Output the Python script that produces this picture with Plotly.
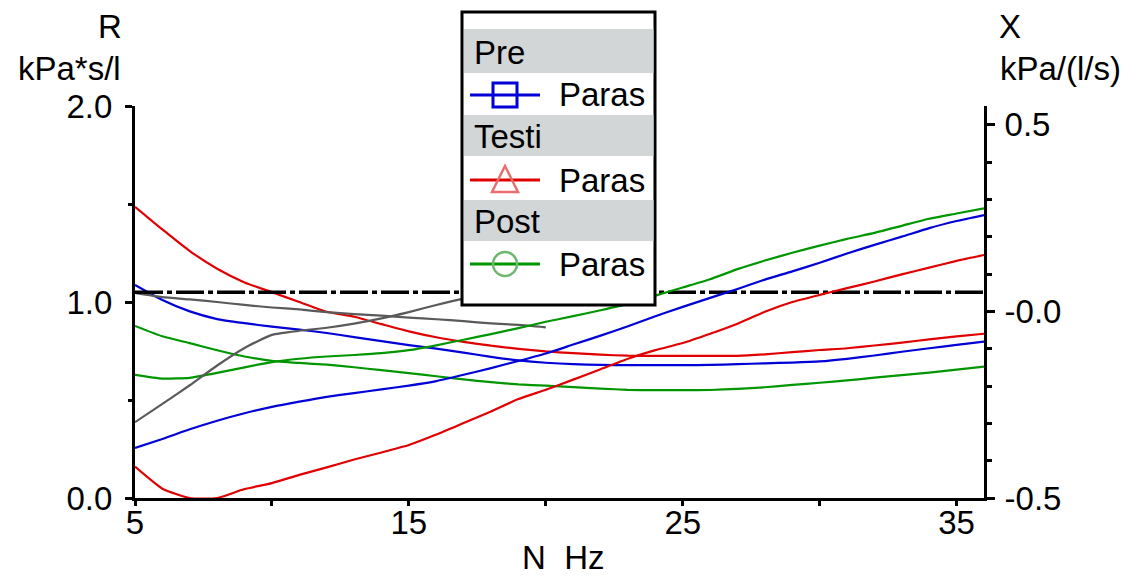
import plotly.graph_objects as go

# ---------------- data ----------------
FREQ = [5, 6, 7, 8, 9, 10, 11, 12, 13, 14, 15, 16, 17, 18, 19, 20,
        21, 22, 23, 24, 25, 26, 27, 28, 29, 30, 31, 32, 33, 34, 35, 36]

# Pre (blue)
PRE_R = [1.087, 1.010, 0.952, 0.913, 0.892, 0.874, 0.859, 0.842, 0.821, 0.800, 0.780, 0.762,
         0.742, 0.720, 0.702, 0.690, 0.683, 0.679, 0.678, 0.678, 0.678, 0.679, 0.683, 0.687,
         0.691, 0.697, 0.710, 0.727, 0.746, 0.764, 0.781, 0.798]
PRE_X = [-0.366, -0.342, -0.316, -0.293, -0.273, -0.256, -0.242, -0.229, -0.219, -0.209, -0.199,
         -0.187, -0.170, -0.152, -0.133, -0.113, -0.089, -0.065, -0.040, -0.013, 0.012, 0.036,
         0.060, 0.085, 0.107, 0.130, 0.155, 0.178, 0.200, 0.223, 0.242, 0.258]

# Testi (red)
TESTI_R = [1.486, 1.370, 1.260, 1.170, 1.100, 1.050, 1.000, 0.950, 0.925, 0.887, 0.850, 0.820,
           0.797, 0.777, 0.761, 0.748, 0.739, 0.731, 0.726, 0.725, 0.725, 0.725, 0.725, 0.733,
           0.744, 0.755, 0.764, 0.778, 0.793, 0.809, 0.825, 0.838]
TESTI_X = [-0.416, -0.475, -0.500, -0.500, -0.476, -0.460, -0.438, -0.418, -0.397, -0.378,
           -0.358, -0.330, -0.299, -0.268, -0.235, -0.210, -0.183, -0.155, -0.127, -0.104,
           -0.085, -0.060, -0.033, -0.001, 0.025, 0.044, 0.062, 0.080, 0.099, 0.117, 0.135, 0.151]

# Post (green)
POST_R = [0.878, 0.825, 0.790, 0.754, 0.722, 0.700, 0.689, 0.680, 0.667, 0.652, 0.637, 0.621,
          0.605, 0.591, 0.580, 0.573, 0.566, 0.558, 0.552, 0.550, 0.550, 0.551, 0.557, 0.565,
          0.577, 0.588, 0.600, 0.614, 0.627, 0.640, 0.655, 0.670]
POST_X = [-0.170, -0.180, -0.178, -0.165, -0.150, -0.136, -0.127, -0.121, -0.117, -0.112,
          -0.104, -0.091, -0.076, -0.061, -0.045, -0.028, -0.013, 0.003, 0.020, 0.042, 0.064,
          0.086, 0.113, 0.136, 0.157, 0.176, 0.194, 0.210, 0.229, 0.248, 0.262, 0.276]

# predicted / reference curves (gray)
REF_FREQ = [5, 6, 7, 8, 9, 10, 11, 12, 13, 14, 15, 16, 17, 18, 19, 20]
REF_R = [1.047, 1.025, 1.013, 1.000, 0.985, 0.972, 0.962, 0.948, 0.938, 0.930, 0.920, 0.912,
         0.902, 0.891, 0.883, 0.871]
REF_X = [-0.297, -0.248, -0.198, -0.145, -0.098, -0.063, -0.052, -0.044, -0.033, -0.019,
         -0.002, 0.017, 0.034, 0.048, 0.060, 0.070]

REF_LINE_R = 1.05

X_TICKS = [5, 15, 25, 35]
X_MINOR = [10, 20, 30]
R_TICKS = [0, 1, 2]
R_TICKTEXT = ["0.0", "1.0", "2.0"]
X2_TICKS = [-0.5, 0, 0.5]
X2_TICKTEXT = ["-0.5", "-0.0", "0.5"]

GROUPS = ["Pre", "Testi", "Post"]
ENTRY = "Paras"

# ---------------- styling ----------------
W, H = 1124, 578
ML, MR, MT, MB = 135, 140, 106, 80
PW, PH = W - ML - MR, H - MT - MB
FONT = "Liberation Sans, Arial, sans-serif"
FS = 33

BLUE = "rgb(0,0,215)"
RED = "rgb(225,0,0)"
GREEN = "rgb(0,150,0)"
GRAY = "rgb(90,90,90)"


def px(x):
    return (x - ML) / PW


def py(y):
    return (H - MB - y) / PH


fig = go.Figure()

line_w = 2.2
for yvals, col in [(POST_R, GREEN), (PRE_R, BLUE), (TESTI_R, RED)]:
    fig.add_trace(go.Scatter(x=FREQ, y=yvals, mode="lines", yaxis="y",
                             line=dict(color=col, width=line_w, shape="spline", smoothing=0.5),
                             showlegend=False, hoverinfo="skip"))
for yvals, col in [(POST_X, GREEN), (PRE_X, BLUE), (TESTI_X, RED)]:
    fig.add_trace(go.Scatter(x=FREQ, y=yvals, mode="lines", yaxis="y2",
                             line=dict(color=col, width=line_w, shape="spline", smoothing=0.5),
                             showlegend=False, hoverinfo="skip"))
fig.add_trace(go.Scatter(x=REF_FREQ, y=REF_R, mode="lines", yaxis="y",
                         line=dict(color=GRAY, width=line_w, shape="spline", smoothing=0.5),
                         showlegend=False, hoverinfo="skip"))
fig.add_trace(go.Scatter(x=REF_FREQ, y=REF_X, mode="lines", yaxis="y2",
                         line=dict(color=GRAY, width=line_w, shape="spline", smoothing=0.5),
                         showlegend=False, hoverinfo="skip"))
fig.add_trace(go.Scatter(x=[FREQ[0], FREQ[-1]], y=[REF_LINE_R, REF_LINE_R], mode="lines",
                         yaxis="y", line=dict(color="black", width=3.5, dash="28px,4px,5px,4px"),
                         showlegend=False, hoverinfo="skip"))

shapes = []
annotations = []

# legend box
shapes.append(dict(type="rect", xref="paper", yref="paper", layer="above",
                   x0=px(462), x1=px(655), y0=py(12), y1=py(305),
                   fillcolor="white", line=dict(color="black", width=3)))
row_tops = [29, 115, 200]
row_h = [44, 41, 41]
for g, top, hh in zip(GROUPS, row_tops, row_h):
    shapes.append(dict(type="rect", xref="paper", yref="paper", layer="above",
                       x0=px(464), x1=px(653.5), y0=py(top), y1=py(top + hh),
                       fillcolor="rgb(211,214,215)", line=dict(width=0)))
    annotations.append(dict(text=g, xref="paper", yref="paper", x=px(472), y=py(top + hh / 2 + 1),
                            xanchor="left", yanchor="middle", showarrow=False,
                            font=dict(family=FONT, size=FS, color="black")))

entry_y = [95, 180, 264]
entry_col = [BLUE, RED, GREEN]
for ey, col in zip(entry_y, entry_col):
    shapes.append(dict(type="line", xref="paper", yref="paper", layer="above",
                       x0=px(470), x1=px(540), y0=py(ey), y1=py(ey),
                       line=dict(color=col, width=3)))
    annotations.append(dict(text=ENTRY, xref="paper", yref="paper", x=px(557), y=py(ey),
                            xanchor="left", yanchor="middle", showarrow=False,
                            font=dict(family=FONT, size=FS, color="black")))

# markers in legend
shapes.append(dict(type="rect", xref="paper", yref="paper", layer="above",
                   x0=px(493), x1=px(517), y0=py(83), y1=py(107),
                   fillcolor="rgba(0,0,0,0)", line=dict(color=BLUE, width=3)))
tri = "M {} {} L {} {} L {} {} Z".format(px(505), py(166), px(492), py(192), px(518), py(192))
shapes.append(dict(type="path", xref="paper", yref="paper", layer="above", path=tri,
                   fillcolor="rgba(0,0,0,0)", line=dict(color="rgb(235,110,110)", width=2.5)))
shapes.append(dict(type="circle", xref="paper", yref="paper", layer="above",
                   x0=px(493), x1=px(517), y0=py(252), y1=py(276),
                   fillcolor="rgba(0,0,0,0)", line=dict(color="rgb(110,185,110)", width=2.5)))

# axis titles
for txt, x, y in [("R", 110, 26), ("kPa*s/l", 69, 68), ("X", 1010, 26),
                  ("kPa/(l/s)", 1060, 68), ("N\u00a0\u00a0Hz", 563, 557)]:
    annotations.append(dict(text=txt, xref="paper", yref="paper", x=px(x), y=py(y),
                            xanchor="center", yanchor="middle", showarrow=False,
                            font=dict(family=FONT, size=FS, color="black")))

axis_common = dict(showgrid=False, zeroline=False, showline=True, linecolor="black",
                   linewidth=3, ticks="outside", tickcolor="black", tickwidth=3,
                   tickfont=dict(family=FONT, size=FS, color="black"), fixedrange=True)

fig.update_layout(
    width=W, height=H,
    margin=dict(l=ML, r=MR, t=MT, b=MB, pad=0),
    paper_bgcolor="white", plot_bgcolor="white",
    showlegend=False,
    xaxis=dict(range=[5, 36], tickvals=X_TICKS, ticklen=5, layer="below traces",
               ticklabelstandoff=-12,
               minor=dict(tickvals=X_MINOR, ticks="outside", ticklen=5, tickwidth=3,
                          tickcolor="black"),
               **axis_common),
    yaxis=dict(range=[0, 2], tickvals=R_TICKS, ticktext=R_TICKTEXT, ticklen=7,
               ticklabelstandoff=6,
               minor=dict(tickvals=[0.5, 1.5], ticks="outside", ticklen=4, tickwidth=3,
                          tickcolor="black"),
               **axis_common),
    yaxis2=dict(range=[-0.5, 0.55], overlaying="y", side="right", tickvals=X2_TICKS,
                ticktext=X2_TICKTEXT, ticklen=8, ticklabelstandoff=3,
                minor=dict(dtick=0.1, tick0=-0.5, ticks="outside", ticklen=5, tickwidth=3,
                           tickcolor="black"),
                **axis_common),
    shapes=shapes,
    annotations=annotations,
)

fig.write_html("out.html")
